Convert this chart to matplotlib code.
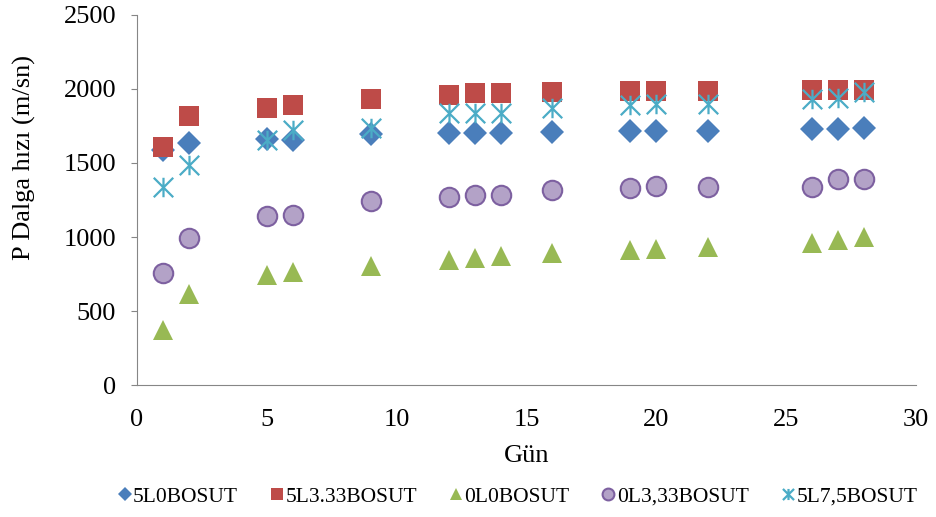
import matplotlib.pyplot as plt
from matplotlib.lines import Line2D
from matplotlib.path import Path

days = [1, 2, 5, 6, 9, 12, 13, 14, 16, 19, 20, 22, 26, 27, 28]

s_5l0 = [1590, 1635, 1662, 1655, 1695, 1703, 1703, 1703, 1709, 1716, 1716, 1716, 1730, 1730, 1738]
s_5l333 = [1606, 1818, 1872, 1892, 1930, 1959, 1971, 1971, 1982, 1984, 1989, 1989, 1991, 1995, 1995]
s_0l0 = [372, 615, 743, 766, 804, 845, 856, 872, 890, 912, 916, 935, 957, 980, 997]
s_0l333 = [755, 991, 1144, 1146, 1243, 1272, 1284, 1284, 1315, 1329, 1345, 1335, 1340, 1389, 1389]
s_5l75 = [1340, 1486, 1655, 1723, 1734, 1840, 1840, 1840, 1869, 1895, 1902, 1902, 1930, 1937, 1982]

labels = ["5L0BOSUT", "5L3.33BOSUT", "0L0BOSUT", "0L3,33BOSUT", "5L7,5BOSUT"]

plt.rcParams["font.family"] = ["Liberation Serif", "DejaVu Serif"]

# Excel-style star: vertical bar plus an X
star = Path([(0, -1), (0, 1), (-1, -1), (1, 1), (-1, 1), (1, -1)],
            [Path.MOVETO, Path.LINETO, Path.MOVETO, Path.LINETO, Path.MOVETO, Path.LINETO])

styles = [
    dict(marker="D", color="#4a7ebb", markeredgewidth=0),
    dict(marker="s", color="#be4b48", markeredgewidth=0),
    dict(marker="^", color="#98b954", markeredgewidth=0),
    dict(marker="o", color="#b3a2c7", markeredgecolor="#7d60a0", markeredgewidth=1.5),
    dict(marker=star, color="#4bacc6", markeredgewidth=1.6),
]
plot_sizes = [12, 14, 15, 14, 14]
legend_sizes = [7, 8.5, 9, 8.5, 8]
series = [s_5l0, s_5l333, s_0l0, s_0l333, s_5l75]

fig = plt.figure(figsize=(9.37, 5.17), dpi=100)
ax = fig.add_axes([0.1462, 0.2553, 0.8314, 0.7157])

for vals, st, ms, lab in zip(series, styles, plot_sizes, labels):
    ax.plot(days, vals, linestyle="none", markersize=ms, label=lab, **st)

ax.set_xlim(0, 30)
ax.set_ylim(0, 2500)
ax.set_xticks(range(0, 31, 5))
ax.set_yticks(range(0, 2501, 500))
ax.tick_params(axis="y", labelsize=19, length=4, color="#868686", pad=11)
ax.tick_params(axis="x", labelsize=19, length=0, pad=17)
ax.spines["top"].set_visible(False)
ax.spines["right"].set_visible(False)
ax.spines["left"].set_color("#868686")
ax.spines["bottom"].set_color("#868686")
ax.set_xlabel("Gün", fontsize=19)
ax.set_ylabel("P Dalga hızı (m/sn)", fontsize=19)
ax.yaxis.set_label_coords(-0.130, 0.614)
ax.xaxis.set_label_coords(0.5, -0.162)

handles = [Line2D([], [], linestyle="none", markersize=ms, **st)
           for st, ms in zip(styles, legend_sizes)]
fig.legend(handles, labels, loc="center", bbox_to_anchor=(0.553, 0.039), ncol=5,
           frameon=False, fontsize=15.5, handletextpad=0.15, columnspacing=1.55,
           handlelength=0.5, borderpad=0, borderaxespad=0)

fig.savefig("out.png", dpi=100)
